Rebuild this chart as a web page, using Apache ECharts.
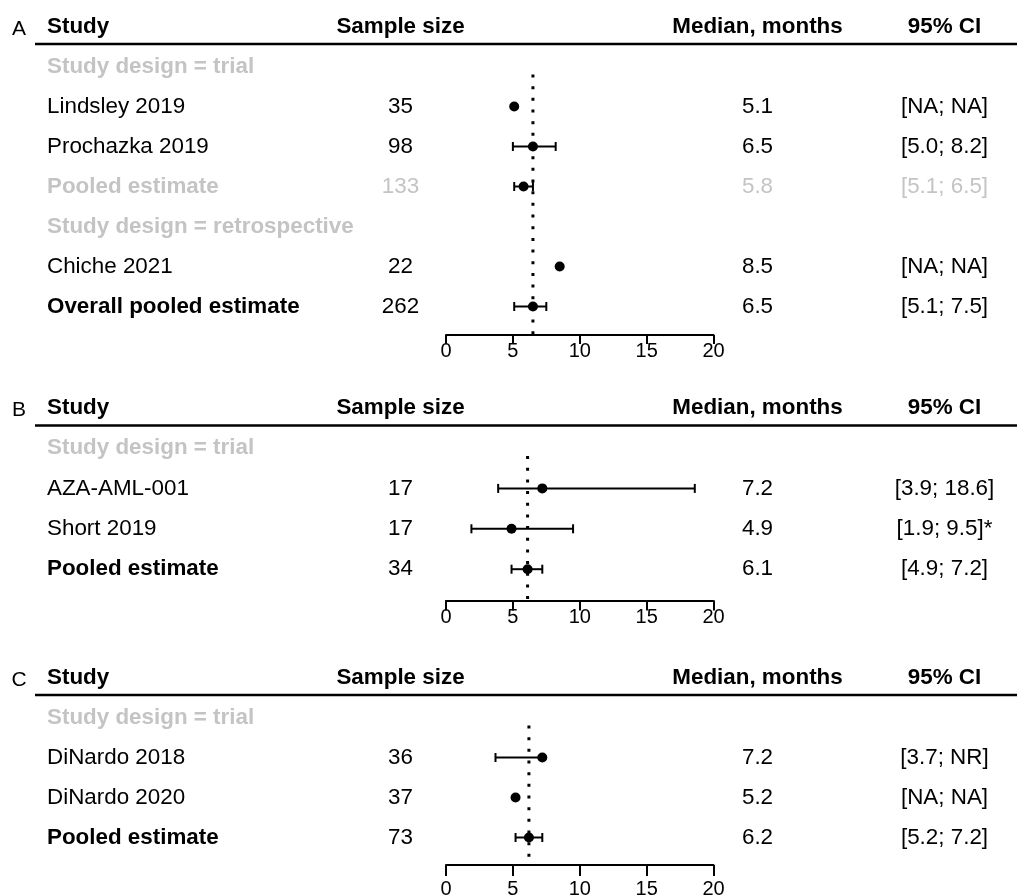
<!DOCTYPE html>
<html><head><meta charset="utf-8">
<script src="https://cdn.jsdelivr.net/npm/echarts@6/dist/echarts.min.js"></script>
<style>html,body{margin:0;padding:0;background:#fff}#c{width:1017px;height:896px}</style>
</head><body><div id="c"></div>
<script>
// ---------------- DATA ----------------
// Panel A
const studiesA = ['Study design = trial', 'Lindsley 2019', 'Prochazka 2019', 'Pooled estimate', 'Study design = retrospective', 'Chiche 2021', 'Overall pooled estimate'];
const rowTypesA = ['group', 'study', 'study', 'subpooled', 'group', 'study', 'pooled'];
const sampleA = [null, 35, 98, 133, null, 22, 262];
const medianA = [null, 5.1, 6.5, 5.8, null, 8.5, 6.5];
const lowerA = [null, null, 5.0, 5.1, null, null, 5.1];
const upperA = [null, null, 8.2, 6.5, null, null, 7.5];
const ciTextA = ['', '[NA; NA]', '[5.0; 8.2]', '[5.1; 6.5]', '', '[NA; NA]', '[5.1; 7.5]'];
const refA = 6.5;

// Panel B
const studiesB = ['Study design = trial', 'AZA-AML-001', 'Short 2019', 'Pooled estimate'];
const rowTypesB = ['group', 'study', 'study', 'pooled'];
const sampleB = [null, 17, 17, 34];
const medianB = [null, 7.2, 4.9, 6.1];
const lowerB = [null, 3.9, 1.9, 4.9];
const upperB = [null, 18.6, 9.5, 7.2];
const ciTextB = ['', '[3.9; 18.6]', '[1.9; 9.5]*', '[4.9; 7.2]'];
const refB = 6.1;

// Panel C
const studiesC = ['Study design = trial', 'DiNardo 2018', 'DiNardo 2020', 'Pooled estimate'];
const rowTypesC = ['group', 'study', 'study', 'pooled'];
const sampleC = [null, 36, 37, 73];
const medianC = [null, 7.2, 5.2, 6.2];
const lowerC = [null, 3.7, null, 5.2];
const upperC = [null, null, null, 7.2];
const ciTextC = ['', '[3.7; NR]', '[NA; NA]', '[5.2; 7.2]'];
const refC = 6.2;

const panelLetters = ['A', 'B', 'C'];
const headers = ['Study', 'Sample size', 'Median, months', '95% CI'];
const xTicks = [0, 5, 10, 15, 20];

// ---------------- LAYOUT / STYLE ----------------
const FONT = "'Liberation Sans', Arial, Helvetica, sans-serif";
const FSIZE = 22.4;
const GRAY = '#c4c4c4';
const BLACK = '#000000';
const COL = { letter: 19, study: 47, n: 400.5, med: 757.5, ci: 944.5, lineL: 35, lineR: 1017 };
const FOREST = { left: 446, width: 267.5 };
const layouts = [
  { row0: 66.5, step: 40, axisY: 335, tickLen: 9, labelMargin: 6 },
  { row0: 448, step: 40.4, axisY: 600.5, tickLen: 10, labelMargin: 7 },
  { row0: 717.5, step: 40, axisY: 865, tickLen: 11, labelMargin: 14 }
];

const panels = [
  { studies: studiesA, types: rowTypesA, n: sampleA, med: medianA, lo: lowerA, hi: upperA, ci: ciTextA, ref: refA },
  { studies: studiesB, types: rowTypesB, n: sampleB, med: medianB, lo: lowerB, hi: upperB, ci: ciTextB, ref: refB },
  { studies: studiesC, types: rowTypesC, n: sampleC, med: medianC, lo: lowerC, hi: upperC, ci: ciTextC, ref: refC }
];

function txt(p, text, o) {
  return {
    type: 'text', x: p[0], y: p[1] + (o.dy || 0), silent: true,
    style: {
      text: text, fill: o.color || BLACK, fontSize: o.size || FSIZE,
      fontWeight: o.bold ? 'bold' : 'normal', fontFamily: FONT,
      align: o.align || 'left', verticalAlign: 'middle'
    }
  };
}

const grid = [], xAxis = [], yAxis = [], series = [];

panels.forEach(function (P, i) {
  const L = layouts[i];
  const top = L.row0 - 1.5 * L.step;
  const height = L.axisY - top;
  const ymin = -1.5;
  const ymax = (L.axisY - L.row0) / L.step;
  const gT = 2 * i, gF = 2 * i + 1;

  grid.push({ left: 0, width: 1017, top: top, height: height, containLabel: false, outerBoundsMode: 'none' });
  grid.push({ left: FOREST.left, width: FOREST.width, top: top, height: height, containLabel: false, outerBoundsMode: 'none' });

  xAxis.push({ gridIndex: gT, type: 'value', min: 0, max: 1017, show: false });
  yAxis.push({ gridIndex: gT, type: 'value', inverse: true, min: ymin, max: ymax, show: false });

  xAxis.push({
    gridIndex: gF, type: 'value', min: xTicks[0], max: xTicks[xTicks.length - 1], interval: 5,
    axisLine: { show: true, onZero: false, lineStyle: { color: BLACK, width: 2 } },
    axisTick: { show: true, length: L.tickLen, lineStyle: { color: BLACK, width: 2 } },
    axisLabel: { show: true, color: BLACK, fontSize: 20, fontFamily: FONT, margin: L.labelMargin },
    splitLine: { show: false }
  });
  yAxis.push({ gridIndex: gF, type: 'value', inverse: true, min: ymin, max: ymax, show: false });

  // ---- table text ----
  const rowsData = [[0, -1]];
  P.studies.forEach(function (s, r) { rowsData.push([0, r]); });
  series.push({
    type: 'custom', xAxisIndex: gT, yAxisIndex: gT, silent: true, animation: false, clip: false,
    data: rowsData, encode: { x: 0, y: 1 },
    renderItem: function (params, api) {
      const r = api.value(1);
      const at = function (x) { return api.coord([x, r]); };
      if (r < 0) {
        const y0 = api.coord([COL.lineL, -0.56]);
        const y1 = api.coord([COL.lineR, -0.56]);
        return {
          type: 'group', children: [
            txt(at(COL.letter), panelLetters[i], { size: 21, align: 'center', dy: 2.5 }),
            txt(at(COL.study), headers[0], { bold: true }),
            txt(at(COL.n), headers[1], { bold: true, align: 'center' }),
            txt(at(COL.med), headers[2], { bold: true, align: 'center' }),
            txt(at(COL.ci), headers[3], { bold: true, align: 'center' }),
            { type: 'line', silent: true, shape: { x1: y0[0], y1: y0[1], x2: y1[0], y2: y1[1] }, style: { stroke: BLACK, lineWidth: 2.5 } }
          ]
        };
      }
      const t = P.types[r];
      const children = [];
      if (t === 'group') {
        children.push(txt(at(COL.study), P.studies[r], { bold: true, color: GRAY }));
      } else {
        const c = t === 'subpooled' ? GRAY : BLACK;
        const bold = t === 'subpooled' || t === 'pooled';
        children.push(txt(at(COL.study), P.studies[r], { bold: bold, color: c }));
        children.push(txt(at(COL.n), String(P.n[r]), { color: c, align: 'center' }));
        children.push(txt(at(COL.med), P.med[r].toFixed(1), { color: c, align: 'center' }));
        children.push(txt(at(COL.ci), P.ci[r], { color: c, align: 'center' }));
      }
      return { type: 'group', children: children };
    }
  });

  // ---- reference dotted line ----
  series.push({
    type: 'line', xAxisIndex: gF, yAxisIndex: gF, silent: true, animation: false,
    symbol: 'none', data: [[P.ref, 0.2], [P.ref, ymax]],
    lineStyle: { color: BLACK, width: 3, type: [3, 8.67] }, z: 2
  });

  // ---- error bars ----
  const errData = [];
  P.med.forEach(function (m, r) {
    if (m === null) return;
    if (P.lo[r] === null && P.hi[r] === null) return;
    errData.push([m, r, P.lo[r] === null ? m : P.lo[r], P.hi[r] === null ? m : P.hi[r], P.lo[r] === null ? 0 : 1, P.hi[r] === null ? 0 : 1]);
  });
  series.push({
    type: 'custom', xAxisIndex: gF, yAxisIndex: gF, silent: true, animation: false, clip: false,
    data: errData, encode: { x: 0, y: 1 }, z: 3,
    renderItem: function (params, api) {
      const r = api.value(1);
      const a = api.coord([api.value(2), r]);
      const b = api.coord([api.value(3), r]);
      const st = { stroke: BLACK, lineWidth: 2 };
      const ch = [{ type: 'line', shape: { x1: a[0], y1: a[1], x2: b[0], y2: b[1] }, style: st }];
      if (api.value(4)) ch.push({ type: 'line', shape: { x1: a[0], y1: a[1] - 4.5, x2: a[0], y2: a[1] + 4.5 }, style: st });
      if (api.value(5)) ch.push({ type: 'line', shape: { x1: b[0], y1: b[1] - 4.5, x2: b[0], y2: b[1] + 4.5 }, style: st });
      return { type: 'group', children: ch };
    }
  });

  // ---- point estimates ----
  const ptData = [];
  P.med.forEach(function (m, r) { if (m !== null) ptData.push([m, r]); });
  series.push({
    type: 'scatter', xAxisIndex: gF, yAxisIndex: gF, silent: true, animation: false,
    data: ptData, symbol: 'circle', symbolSize: 10, itemStyle: { color: BLACK, opacity: 1 }, z: 4
  });
});

const chart = echarts.init(document.getElementById('c'), null, { renderer: 'canvas' });
chart.setOption({
  backgroundColor: '#ffffff',
  animation: false,
  tooltip: { show: false },
  grid: grid, xAxis: xAxis, yAxis: yAxis, series: series
});
</script>
</body></html>
